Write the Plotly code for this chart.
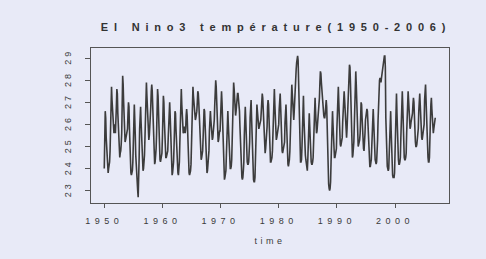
import plotly.graph_objects as go

# Monthly Niño-3 SST (°C), Jan..Dec
t1950s = [
    24.0, 25.2, 26.6, 26.3, 25.4, 24.8, 24.3, 24.0, 23.8, 24.0, 24.1, 24.3,  # 1950
    24.8, 26.2, 27.2, 27.7, 27.1, 26.5, 26.0, 25.7, 25.6, 25.9, 26.0, 25.6,  # 1951
    26.0, 26.8, 27.6, 27.4, 26.5, 25.7, 25.0, 24.6, 24.5, 24.7, 24.8, 25.1,  # 1952
    25.6, 26.9, 28.2, 27.8, 27.0, 26.3, 25.6, 25.2, 25.3, 25.5, 25.4, 25.6,  # 1953
    25.8, 26.5, 27.0, 26.8, 25.8, 24.8, 24.2, 23.8, 23.7, 23.8, 23.9, 24.3,  # 1954
    24.8, 26.0, 26.9, 26.5, 25.5, 24.6, 24.0, 23.6, 23.3, 23.0, 22.7, 23.3,  # 1955
    24.5, 25.8, 26.6, 26.8, 26.1, 25.3, 24.6, 24.1, 23.9, 24.0, 24.2, 24.6,  # 1956
    25.4, 26.7, 27.6, 27.9, 27.3, 26.7, 26.0, 25.5, 25.3, 25.5, 25.8, 26.2,  # 1957
    26.8, 27.5, 27.8, 27.5, 26.8, 25.9, 25.1, 24.6, 24.2, 24.3, 24.5, 24.9,  # 1958
    25.6, 26.8, 27.6, 27.3, 26.4, 25.5, 24.8, 24.4, 24.3, 24.4, 24.5, 24.7,  # 1959
]
t1960s = [
    25.4, 26.5, 27.3, 27.0, 26.2, 25.3, 24.8, 24.5, 24.5, 24.6, 24.6, 24.8,  # 1960
    25.4, 26.4, 26.9, 27.0, 26.4, 25.4, 24.5, 24.0, 23.7, 23.8, 24.0, 24.3,  # 1961
    25.0, 26.0, 26.6, 26.5, 25.8, 25.0, 24.4, 24.1, 23.8, 23.7, 23.9, 24.3,  # 1962
    25.2, 26.5, 27.4, 27.6, 26.9, 26.2, 25.8, 25.6, 25.7, 25.9, 25.8, 25.6,  # 1963
    25.8, 26.4, 26.7, 26.4, 25.5, 24.6, 24.0, 23.8, 23.7, 23.8, 23.9, 24.2,  # 1964
    25.4, 26.6, 27.5, 27.7, 27.3, 26.9, 26.5, 26.2, 26.2, 26.3, 26.4, 26.6,  # 1965
    27.0, 27.5, 27.4, 27.0, 26.3, 25.5, 24.8, 24.5, 24.4, 24.5, 24.6, 24.8,  # 1966
    25.4, 26.3, 26.7, 26.6, 25.9, 25.1, 24.4, 24.0, 23.8, 23.9, 24.1, 24.3,  # 1967
    24.8, 25.7, 26.4, 26.6, 26.2, 25.8, 25.5, 25.3, 25.4, 25.6, 25.8, 26.2,  # 1968
    26.9, 27.6, 28.0, 27.7, 27.0, 26.2, 25.5, 25.2, 25.3, 25.6, 25.7, 25.7,  # 1969
]
t1970s = [
    26.3, 27.1, 27.5, 27.0, 26.0, 25.0, 24.2, 23.7, 23.5, 23.6, 23.7, 23.9,  # 1970
    24.6, 25.7, 26.4, 26.6, 26.0, 25.2, 24.6, 24.1, 24.0, 24.0, 24.1, 24.4,  # 1971
    25.5, 26.6, 27.5, 27.9, 27.6, 27.1, 26.6, 26.4, 26.6, 27.0, 27.3, 27.4,  # 1972
    27.4, 27.2, 27.0, 26.6, 25.9, 25.0, 24.3, 23.8, 23.6, 23.5, 23.6, 23.9,  # 1973
    24.3, 25.5, 26.4, 26.8, 26.2, 25.3, 24.6, 24.3, 24.2, 24.2, 24.3, 24.6,  # 1974
    25.2, 26.3, 27.0, 27.1, 26.3, 25.2, 24.3, 23.8, 23.5, 23.4, 23.4, 23.6,  # 1975
    24.5, 25.7, 26.6, 26.9, 26.6, 26.2, 25.9, 25.8, 25.9, 26.0, 26.0, 26.2,  # 1976
    26.6, 27.1, 27.4, 27.2, 26.5, 25.7, 25.1, 24.8, 24.7, 24.9, 25.2, 25.4,  # 1977
    25.9, 26.8, 27.1, 26.9, 26.1, 25.2, 24.6, 24.3, 24.3, 24.4, 24.5, 24.8,  # 1978
    25.6, 26.8, 27.4, 27.6, 26.9, 26.0, 25.5, 25.3, 25.4, 25.6, 25.6, 25.8,  # 1979
]
t1980s = [
    26.0, 26.7, 27.2, 27.4, 26.8, 25.9, 25.2, 24.8, 24.7, 24.8, 24.9, 25.0,  # 1980
    25.2, 26.1, 26.8, 26.9, 26.2, 25.3, 24.6, 24.2, 24.1, 24.2, 24.4, 24.8,  # 1981
    25.4, 26.4, 27.3, 27.8, 27.4, 26.8, 26.3, 26.2, 26.6, 27.3, 27.9, 28.3,  # 1982
    28.5, 28.8, 29.1, 29.1, 28.9, 28.0, 26.8, 25.6, 24.7, 24.3, 24.3, 24.4,  # 1983
    25.0, 26.4, 27.2, 27.3, 26.3, 25.4, 24.9, 24.6, 24.4, 24.2, 24.0, 23.9,  # 1984
    24.4, 25.6, 26.3, 26.5, 25.9, 25.1, 24.6, 24.3, 24.2, 24.2, 24.3, 24.5,  # 1985
    25.2, 26.3, 27.0, 27.2, 26.6, 25.9, 25.6, 25.7, 26.0, 26.2, 26.4, 26.6,  # 1986
    27.2, 27.9, 28.4, 28.3, 27.9, 27.5, 27.1, 26.8, 26.6, 26.4, 26.3, 26.3,  # 1987
    26.5, 26.9, 27.1, 26.8, 25.7, 24.5, 23.7, 23.3, 23.1, 23.0, 23.1, 23.4,  # 1988
    24.3, 25.6, 26.4, 26.6, 26.0, 25.2, 24.7, 24.5, 24.5, 24.6, 24.7, 24.9,  # 1989
]
t1990s = [
    25.8, 26.9, 27.6, 27.7, 27.0, 26.0, 25.4, 25.1, 25.0, 25.1, 25.2, 25.4,  # 1990
    26.1, 26.9, 27.4, 27.5, 27.1, 26.5, 26.0, 25.5, 25.4, 25.8, 26.3, 26.9,  # 1991
    27.6, 28.3, 28.7, 28.6, 27.9, 26.6, 25.4, 24.8, 24.5, 24.6, 24.8, 25.2,  # 1992
    26.0, 27.3, 28.2, 28.4, 27.8, 26.8, 25.8, 25.2, 25.0, 25.1, 25.2, 25.3,  # 1993
    25.6, 26.4, 27.0, 26.9, 26.3, 25.6, 25.2, 24.9, 24.8, 25.1, 25.6, 26.2,  # 1994
    26.4, 26.6, 26.7, 26.6, 26.0, 25.2, 24.6, 24.2, 24.1, 24.1, 24.2, 24.4,  # 1995
    25.0, 26.0, 26.6, 26.7, 26.1, 25.2, 24.6, 24.4, 24.3, 24.2, 24.3, 24.6,  # 1996
    25.3, 26.2, 27.1, 27.6, 28.0, 28.1, 27.9, 27.9, 28.1, 28.3, 28.6, 28.7,  # 1997
    28.8, 29.0, 29.1, 29.1, 28.6, 26.3, 25.0, 24.3, 24.1, 24.0, 23.9, 24.0,  # 1998
    24.6, 25.8, 26.5, 26.6, 25.7, 24.8, 24.1, 23.7, 23.6, 23.6, 23.6, 23.8,  # 1999
]
t2000s = [
    24.8, 26.2, 27.2, 27.4, 26.5, 25.5, 24.8, 24.4, 24.2, 24.2, 24.3, 24.5,  # 2000
    25.4, 26.6, 27.3, 27.5, 26.8, 25.8, 25.0, 24.5, 24.4, 24.4, 24.5, 24.7,  # 2001
    25.6, 26.8, 27.4, 27.5, 27.1, 26.8, 26.2, 25.8, 25.9, 26.1, 26.2, 26.3,  # 2002
    26.5, 26.9, 27.2, 27.0, 26.1, 25.5, 25.2, 25.0, 25.0, 25.1, 25.3, 25.4,  # 2003
    25.8, 26.6, 27.3, 27.4, 26.9, 26.0, 25.5, 25.4, 25.3, 25.5, 25.5, 25.6,  # 2004
    26.0, 27.1, 27.7, 27.8, 27.1, 26.1, 25.3, 24.8, 24.5, 24.3, 24.3, 24.5,  # 2005
    25.0, 26.2, 26.9, 27.2, 26.7, 26.0, 25.7, 25.6, 25.8, 26.0, 26.2, 26.3,  # 2006
]

start_year = 1950
x_ticks = [1950, 1960, 1970, 1980, 1990, 2000]
y_ticks = [23, 24, 25, 26, 27, 28, 29]
title_text = "El Nino3 température(1950-2006)"
x_label = "time"

temps = t1950s + t1960s + t1970s + t1980s + t1990s + t2000s
times = [start_year + i / 12 for i in range(len(temps))]

bg = "#e8eaf7"
ink = "#3a3a3a"

fig = go.Figure(go.Scatter(
    x=times, y=temps, mode="lines",
    line=dict(color="#3c3c3c", width=1.6),
    hoverinfo="skip",
))

fig.update_layout(
    width=486, height=259,
    paper_bgcolor=bg, plot_bgcolor=bg,
    margin=dict(l=91, r=37, t=48, b=56, autoexpand=False),
    showlegend=False,
    font=dict(family="Liberation Sans, Arial, sans-serif", color=ink, size=9),
    title=dict(text=title_text, x=0.568, xanchor="center", xref="container",
               y=0.895, yanchor="middle", yref="container", automargin=False,
               font=dict(size=11, color="#333333", weight="bold")),
)
fig.update_xaxes(
    range=[1947.72, 2009.28], tickvals=x_ticks, ticktext=[str(v) for v in x_ticks],
    showgrid=False, zeroline=False, showline=True, linecolor="#555555", linewidth=1,
    mirror=True, ticks="outside", ticklen=4, tickcolor="#555555", automargin=False,
    ticklabelstandoff=5,
    tickfont=dict(size=9, color=ink),
    title=dict(text=x_label, font=dict(size=9, color=ink), standoff=12),
)
fig.update_yaxes(
    range=[22.44, 29.46], tickvals=y_ticks, ticktext=[str(v) for v in y_ticks],
    showgrid=False, zeroline=False, showline=True, linecolor="#555555", linewidth=1,
    mirror=True, ticks="outside", ticklen=5, tickcolor="#555555", tickangle=-90,
    ticklabelstandoff=10, automargin=False,
    tickfont=dict(size=9, color=ink),
)

js = """
document.body.style.margin = '0';
var s = document.createElement('style');
s.innerHTML = 'body{margin:0} .gtitle{letter-spacing:5.8px} .xtick text{letter-spacing:4.5px} .ytick text{letter-spacing:3px} .g-xtitle text{letter-spacing:3.5px}';
document.head.appendChild(s);
"""
fig.write_html("out.html", post_script=js, config={"displayModeBar": False})
